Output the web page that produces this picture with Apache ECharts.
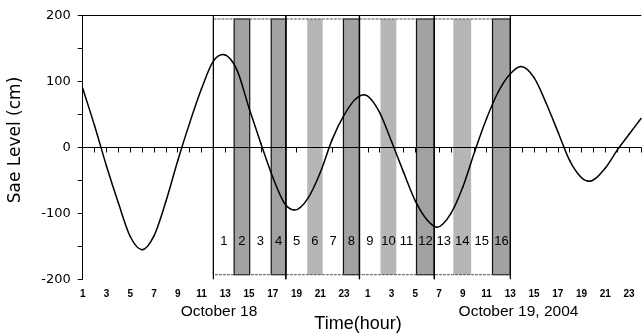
<!DOCTYPE html>
<html lang="en">
<head>
<meta charset="UTF-8">
<title>Sea level</title>
<script src="https://cdn.jsdelivr.net/npm/echarts@6/dist/echarts.min.js"></script>
<style>
  html, body { margin: 0; padding: 0; background: #fff; }
  #chart { width: 644px; height: 336px; }
</style>
</head>
<body>
<div id="chart"></div>
<script>
// sea level (hour 1 = 01:00, October 18); turning points at their own times
const hours = [1, 2, 3, 4, 5, 6, 7, 8, 9, 10, 11, 12, 12.8, 14, 15, 16, 17, 18, 18.8, 20, 21, 22, 23, 24,
               24.7, 26, 27, 28, 29, 30, 30.8, 32, 33, 34, 35, 36, 37, 37.9, 39, 40, 41, 42, 43.5, 45, 46, 47, 48];
const seaLevel = [90, 33, -28, -84, -135, -155, -134, -82, -20, 37, 89, 131, 141, 117, 60, 6, -45, -85, -95, -76, -38, 12, 49, 74,
                  80, 53, 9, -37, -81, -110, -121, -100, -60, -6, 44, 85, 112, 123, 106, 68, 24, -20, -51, -31, -4, 20, 44];

// sampling windows: edges in hours, box numbers, shading of each box
const segEdges = [12, 13.75, 15.06, 16.87, 18.1, 19.9, 21.2, 22.95, 24.3, 26.07, 27.4, 29.1, 30.6, 32.2, 33.7, 35.5, 37];
const segNames = ['1', '2', '3', '4', '5', '6', '7', '8', '9', '10', '11', '12', '13', '14', '15', '16'];
const segShade = ['', 'dark', '', 'dark', '', 'light', '', 'dark', '', 'light', '', 'dark', '', 'light', '', 'dark'];
const quarterEdges = [12, 18.1, 24.3, 30.6, 37];
const boxTop = 195, boxBottom = -193, labelLevel = -143;

const chart = echarts.init(document.getElementById('chart'));

const segData = segNames.map((name, i) => [segEdges[i], segEdges[i + 1], i]);
const quarterData = quarterEdges.slice(0, -1).map((x, i) => [x, quarterEdges[i + 1]]);

function rectBetween(api, x0, x1, yTop, yBot) {
    const p0 = api.coord([x0, yTop]);
    const p1 = api.coord([x1, yBot]);
    return { x: p0[0], y: p0[1], width: p1[0] - p0[0], height: p1[1] - p0[1] };
}

// slope (cm per hour) at a sample, from its neighbours
function slopeAt(i) {
    const n = hours.length;
    if (i === 0) return (seaLevel[1] - seaLevel[0]) / (hours[1] - hours[0]);
    if (i === n - 1) return (seaLevel[n - 1] - seaLevel[n - 2]) / (hours[n - 1] - hours[n - 2]);
    const h0 = hours[i] - hours[i - 1], h1 = hours[i + 1] - hours[i];
    const s0 = (seaLevel[i] - seaLevel[i - 1]) / h0, s1 = (seaLevel[i + 1] - seaLevel[i]) / h1;
    return (s0 * h1 + s1 * h0) / (h0 + h1);
}

const option = {
    animation: false,
    grid: { left: 82.7, right: 0, top: 15.7, bottom: 56.7 },
    xAxis: [
        {
            type: 'value', min: 1, max: 48, interval: 1, position: 'bottom',
            axisLine: { lineStyle: { color: '#000', width: 1 } },
            axisTick: { inside: false, length: 5, lineStyle: { color: '#000' } },
            splitLine: { show: false },
            axisLabel: {
                margin: 10, color: '#000', fontFamily: 'Arial, "Liberation Sans"', fontWeight: 'bold', fontSize: 10,
                formatter: v => (v % 2 === 1 && v < 48) ? String(((v - 1) % 24) + 1) : ''
            }
        },
        {
            type: 'value', min: 1, max: 48, position: 'top',
            axisLine: { lineStyle: { color: '#000', width: 1 } },
            axisTick: { show: false }, axisLabel: { show: false }, splitLine: { show: false }
        }
    ],
    yAxis: {
        type: 'value', min: -200, max: 200, interval: 100,
        axisLine: { show: true, lineStyle: { color: '#000', width: 1 } },
        axisTick: { show: true, inside: false, length: 5, lineStyle: { color: '#000' } },
        minorTick: { show: true, splitNumber: 2, length: 5, lineStyle: { color: '#000' } },
        splitLine: { show: false },
        axisLabel: { margin: 12, color: '#000', fontFamily: '"DejaVu Sans"', fontSize: 13 }
    },
    graphic: [
        { type: 'text', x: 15.5, y: 140, rotation: Math.PI / 2,
          style: { text: 'Sae Level (cm)', font: '17px "DejaVu Sans"', fill: '#000', align: 'center', verticalAlign: 'middle' } },
        { type: 'text', x: 219, y: 312,
          style: { text: 'October 18', font: '15.5px Arial, "Liberation Sans"', fill: '#000', align: 'center', verticalAlign: 'middle' } },
        { type: 'text', x: 518.5, y: 312,
          style: { text: 'October 19, 2004', font: '15.5px Arial, "Liberation Sans"', fill: '#000', align: 'center', verticalAlign: 'middle' } },
        { type: 'text', x: 358, y: 324,
          style: { text: 'Time(hour)', font: '18px Arial, "Liberation Sans"', fill: '#000', align: 'center', verticalAlign: 'middle' } }
    ],
    series: [
        {
            // shaded boxes
            type: 'custom', z: 1, silent: true,
            data: segData,
            renderItem: (params, api) => {
                const tone = segShade[api.value(2)];
                if (!tone) return null;
                return {
                    type: 'rect',
                    shape: rectBetween(api, api.value(0), api.value(1), boxTop, boxBottom),
                    style: {
                        fill: tone === 'dark' ? '#a2a2a2' : '#b6b6b6',
                        stroke: tone === 'dark' ? '#111' : null,
                        lineWidth: 1.2
                    }
                };
            }
        },
        {
            // window frames and full-height dividers
            type: 'custom', z: 2, silent: true,
            data: quarterData,
            renderItem: (params, api) => {
                const x0 = api.value(0), x1 = api.value(1);
                const top = api.coord([x0, 200]), bot = api.coord([x0, -200]);
                const top1 = api.coord([x1, 200]);
                return {
                    type: 'group',
                    children: [
                        { type: 'rect', shape: rectBetween(api, x0, x1, boxTop, boxBottom),
                          style: { fill: null, stroke: '#555', lineWidth: 1, lineDash: [3, 1] } },
                        { type: 'line', shape: { x1: top[0], y1: top[1], x2: bot[0], y2: bot[1] },
                          style: { stroke: '#000', lineWidth: 1.2 } },
                        { type: 'line', shape: { x1: top1[0], y1: top[1], x2: top1[0], y2: bot[1] },
                          style: { stroke: '#000', lineWidth: 1.2 } }
                    ]
                };
            }
        },
        {
            // box numbers
            type: 'custom', z: 3, silent: true,
            data: segData,
            renderItem: (params, api) => {
                const c = api.coord([(api.value(0) + api.value(1)) / 2, labelLevel]);
                return {
                    type: 'text', x: c[0], y: c[1],
                    style: { text: segNames[api.value(2)], font: '13px Arial, "Liberation Sans"', fill: '#000',
                             align: 'center', verticalAlign: 'middle' }
                };
            }
        },
        {
            // sea level curve: each sample draws a smooth piece to the next one
            type: 'custom', z: 4, silent: true,
            data: hours.map((h, i) => [h, seaLevel[i]]),
            encode: { x: 0, y: 1 },
            renderItem: (params, api) => {
                const i = params.dataIndex;
                if (i >= hours.length - 1) return null;
                const x0 = hours[i], x1 = hours[i + 1], y0 = seaLevel[i], y1 = seaLevel[i + 1];
                const d = (x1 - x0) / 3;
                const p0 = api.coord([x0, y0]), p1 = api.coord([x1, y1]);
                const c0 = api.coord([x0 + d, y0 + slopeAt(i) * d]);
                const c1 = api.coord([x1 - d, y1 - slopeAt(i + 1) * d]);
                return {
                    type: 'bezierCurve',
                    shape: { x1: p0[0], y1: p0[1], x2: p1[0], y2: p1[1], cpx1: c0[0], cpy1: c0[1], cpx2: c1[0], cpy2: c1[1] },
                    style: { stroke: '#000', lineWidth: 1.5, fill: null, lineCap: 'round' }
                };
            },
            markLine: {
                silent: true, symbol: ['none', 'none'], label: { show: false },
                lineStyle: { color: '#000', width: 1, type: 'solid' },
                data: [{ yAxis: 0 }]
            }
        }
    ]
};

chart.setOption(option);
</script>
</body>
</html>
